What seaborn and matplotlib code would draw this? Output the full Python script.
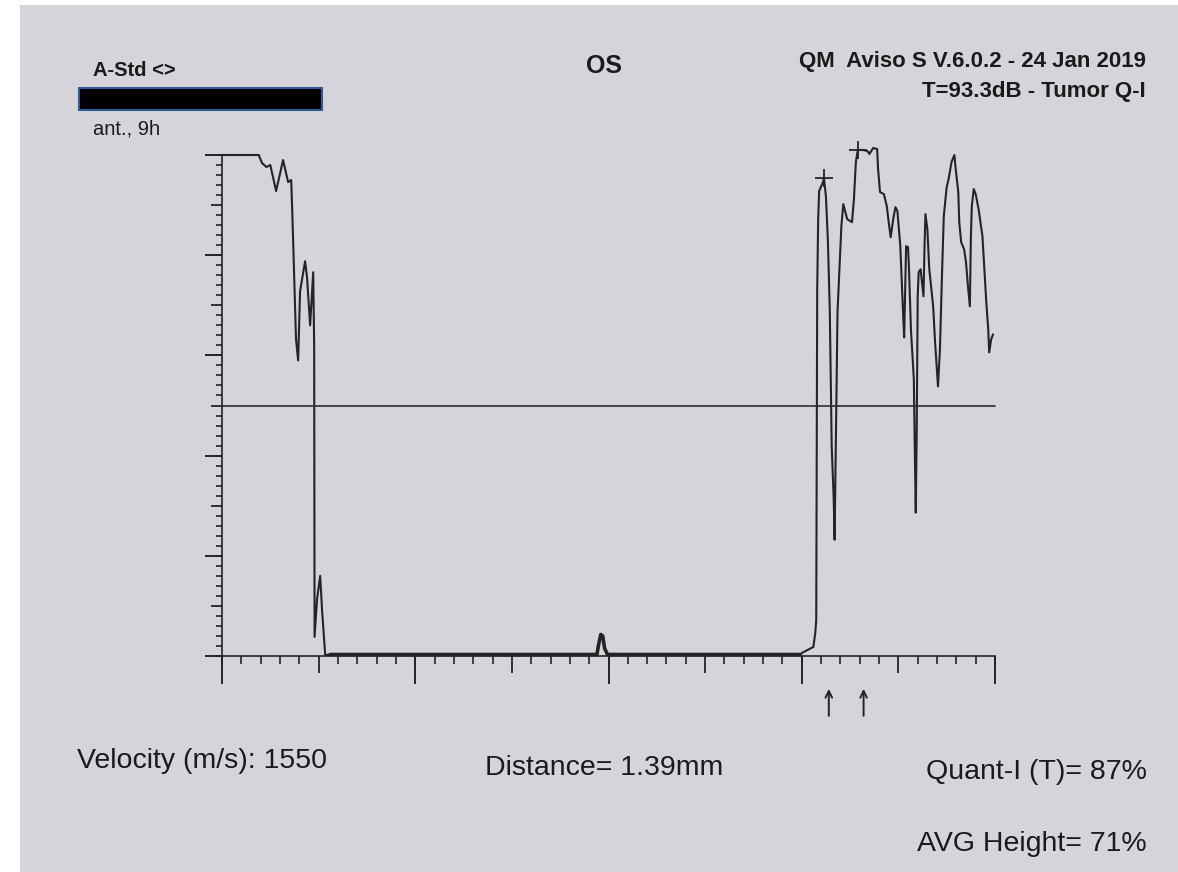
import matplotlib
matplotlib.use("Agg")
import matplotlib.pyplot as plt
from matplotlib.patches import Rectangle
import numpy as np
import pandas as pd
import seaborn as sns

# A-scan trace, x in scale divisions (0-40), y in % amplitude
left_t = [0, 1.9, 2.07, 2.3, 2.5, 2.8, 3.16, 3.42, 3.58, 3.63, 3.73, 3.83, 3.94, 4.04,
          4.3, 4.4, 4.56, 4.72, 4.77, 4.79, 4.92, 5.08, 5.18, 5.34]
left_v = [100, 100, 98.4, 97.6, 98, 92.8, 99, 94.6, 95, 89.4, 76.4, 63.2, 59, 72.8,
          78.8, 75.6, 66, 76.6, 61.8, 3.8, 11.4, 16, 9, 0.2]

base_t = [5.6, 19.4, 19.5, 19.6, 19.7, 19.8, 19.95, 29.9]
base_v = [0.3, 0.3, 2.5, 4.3, 4.0, 1.5, 0.3, 0.3]

right_t = [29.95, 30.0, 30.5, 30.6, 30.7, 30.75, 30.8, 30.85, 30.9, 31.1, 31.15, 31.25,
           31.35, 31.45, 31.55, 31.65, 31.7, 31.75, 31.8, 31.85, 31.95, 32.05, 32.15,
           32.35, 32.6, 32.7, 32.8, 32.9, 33.15, 33.4, 33.5, 33.7, 33.9, 33.95, 34.05,
           34.25, 34.4, 34.5, 34.6, 34.75, 34.85, 34.95, 35.1, 35.25, 35.3, 35.4, 35.5,
           35.55, 35.65, 35.8, 35.85, 35.9, 35.95, 36.0, 36.05, 36.15, 36.3, 36.35, 36.4,
           36.5, 36.6, 36.8, 36.9, 37.05, 37.15, 37.25, 37.35, 37.5, 37.6, 37.75, 37.9,
           37.95, 38.1, 38.15, 38.25, 38.4, 38.5, 38.6, 38.7, 38.75, 38.8, 38.9, 39.0,
           39.15, 39.35, 39.45, 39.55, 39.65, 39.7, 39.8, 39.9]
right_v = [0.3, 0.6, 1.6, 1.8, 4.6, 7.2, 73.2, 87.2, 92.8, 94.6, 95.4, 91.8,
           83.2, 69.2, 41.8, 31.8, 23.2, 38.6, 53.2, 68.6, 77.2, 85.8, 90.2,
           87.2, 86.6, 91.2, 98.6, 101, 101, 100.8, 100.2, 101.4, 101.2, 97.2, 92.6,
           92.2, 89.8, 86.6, 83.6, 87.6, 89.6, 88.8, 81.8, 67.8, 63.6, 81.8, 81.6,
           77.2, 65.2, 55.2, 41.2, 28.6, 45.2, 71.8, 76.6, 77.2, 71.8, 81.2, 88.2,
           85.2, 77.2, 69.8, 62.6, 53.8, 61.2, 75.2, 87.8, 93.6, 95.2, 98.6, 100,
           97.8, 92.6, 86.6, 82.6, 81.2, 78.6, 73.8, 69.8, 83.2, 89.8, 93.2, 92.2,
           89.2, 83.8, 77.2, 70.6, 65.2, 60.6, 63.2, 64.2]

gate_t = [31.15, 32.9]
gate_v = [95.4, 101]
arrow_t = [31.4, 33.2]
threshold = 50

trace = pd.DataFrame({"t": left_t + base_t + right_t,
                      "v": left_v + base_v + right_v})
baseline = pd.DataFrame({"t": base_t, "v": base_v})

sns.set_theme(style="ticks")
plt.rcParams['font.family'] = ['Liberation Sans', 'DejaVu Sans']

ink = "#1a1a1a"
pen = "#242424"
fig = plt.figure(figsize=(11.78, 8.72), dpi=100, facecolor="white")
# paper of the photographed printout
fig.patches.append(Rectangle((20 / 1178, 0), 1, 1 - 5 / 872, transform=fig.transFigure,
                             facecolor="#d5d4db", edgecolor="none", zorder=-10))

ax = fig.add_axes([222 / 1178, 1 - 656 / 872, 773 / 1178, 501 / 872])
ax.set_facecolor("none")

sns.lineplot(data=trace, x="t", y="v", estimator=None, sort=False, color=pen,
             linewidth=1.5, ax=ax, clip_on=False)
# the flat echo-free stretch prints heavier on top of the axis
sns.lineplot(data=baseline, x="t", y="v", estimator=None, sort=False, color=pen,
             linewidth=2.6, ax=ax, clip_on=False)
ax.plot([0, 40], [threshold, threshold], color="#2e2e2e", linewidth=1.2, clip_on=False)
sns.scatterplot(x=gate_t, y=gate_v, marker="+", s=170, color=pen, linewidth=1.3,
                ax=ax, clip_on=False, zorder=5)
for t in arrow_t:
    ax.annotate("", xy=(t, -6), xytext=(t, -12.5), annotation_clip=False,
                arrowprops=dict(arrowstyle="->", color=pen, lw=1.4))

ax.set_xlim(0, 40)
ax.set_ylim(0, 100)
ax.set_xlabel("")
ax.set_ylabel("")
for s in ["top", "right"]:
    ax.spines[s].set_visible(False)
for s in ["left", "bottom"]:
    ax.spines[s].set_color(pen)
    ax.spines[s].set_linewidth(1.2)

# three tick levels on each axis
ax.set_xticks([5, 15, 25, 35])
ax.set_xticks(np.arange(0, 41, 1), minor=True)
ax.set_yticks([10, 30, 50, 70, 90])
ax.set_yticks(np.arange(0, 101, 2), minor=True)
ax.tick_params(axis="x", which="major", length=12, width=1.3, color=pen, labelbottom=False)
ax.tick_params(axis="x", which="minor", length=6, width=1.2, color=pen)
ax.tick_params(axis="y", which="major", length=8, width=1.3, color=pen, labelleft=False)
ax.tick_params(axis="y", which="minor", length=4, width=1.2, color=pen)

secx = ax.secondary_xaxis("bottom")
secx.set_xticks([0, 10, 20, 30, 40])
secx.tick_params(length=20, width=1.4, color=pen, labelbottom=False)
secx.spines["bottom"].set_visible(False)
secy = ax.secondary_yaxis("left")
secy.set_yticks([0, 20, 40, 60, 80, 100])
secy.tick_params(length=12, width=1.4, color=pen, labelleft=False)
secy.spines["left"].set_visible(False)

# header
fig.text(93 / 1178, 1 - 70 / 872, "A-Std <>", fontsize=14.5, fontweight="bold",
         color=ink, ha="left", va="center")
fig.patches.append(Rectangle((79 / 1178, 1 - 110 / 872), 243 / 1178, 22 / 872,
                             transform=fig.transFigure, facecolor="black",
                             edgecolor="#2f5a96", linewidth=1.5))
fig.text(93 / 1178, 1 - 129 / 872, "ant., 9h", fontsize=14.5, color=ink,
         ha="left", va="center")
fig.text(604 / 1178, 1 - 66 / 872, "OS", fontsize=18, fontweight="bold", color=ink,
         ha="center", va="center")
fig.text(1146 / 1178, 1 - 62 / 872, "QM  Aviso S V.6.0.2 - 24 Jan 2019", fontsize=16,
         fontweight="bold", color=ink, ha="right", va="center")
fig.text(1146 / 1178, 1 - 91 / 872, "T=93.3dB - Tumor Q-I", fontsize=16,
         fontweight="bold", color=ink, ha="right", va="center")

# footer
fig.text(77 / 1178, 1 - 761 / 872, "Velocity (m/s): 1550", fontsize=20.5, color=ink,
         ha="left", va="center")
fig.text(604 / 1178, 1 - 768 / 872, "Distance= 1.39mm", fontsize=20.5, color=ink,
         ha="center", va="center")
fig.text(1147 / 1178, 1 - 772 / 872, "Quant-I (T)= 87%", fontsize=20.5, color=ink,
         ha="right", va="center")
fig.text(1147 / 1178, 1 - 844 / 872, "AVG Height= 71%", fontsize=20.5, color=ink,
         ha="right", va="center")

fig.savefig("out.png", dpi=100, facecolor=fig.get_facecolor())
